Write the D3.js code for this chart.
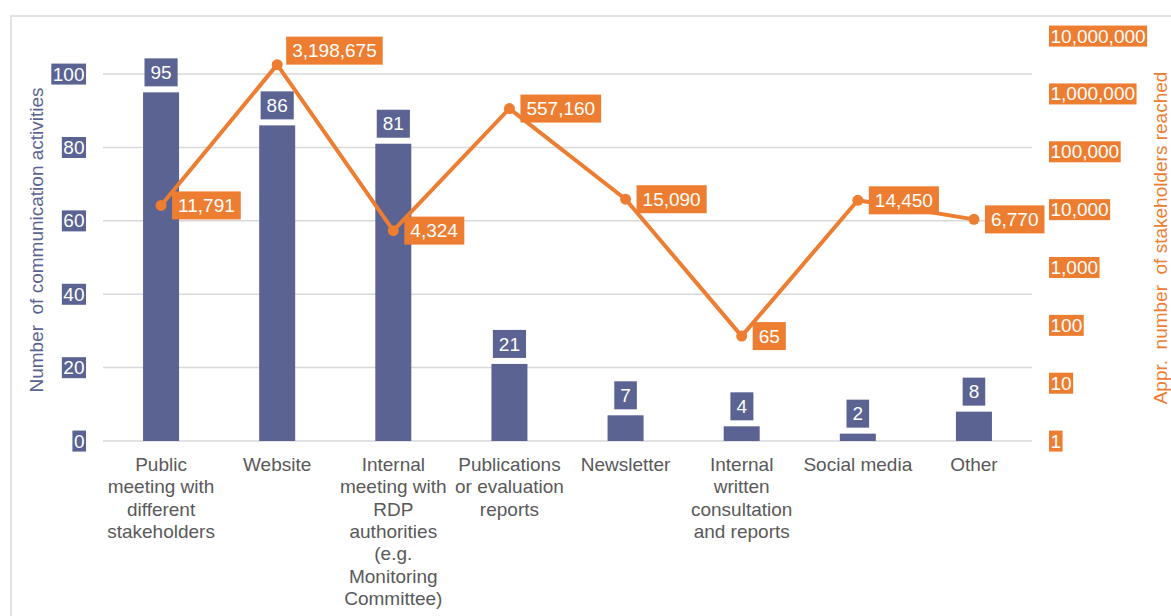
<!DOCTYPE html>
<html>
<head>
<meta charset="utf-8">
<script src="https://cdn.jsdelivr.net/npm/d3@7"></script>
<style>
  html, body { margin: 0; padding: 0; background: #ffffff; }
  svg { display: block; font-family: "Liberation Sans", Arial, sans-serif; }
</style>
</head>
<body>
<svg id="chart" width="1171" height="616"></svg>
<script>
// ---- data ----
const categories = [
  "Public meeting with different stakeholders",
  "Website",
  "Internal meeting with RDP authorities (e.g. Monitoring Committee)",
  "Publications or evaluation reports",
  "Newsletter",
  "Internal written consultation and reports",
  "Social media",
  "Other"
];
const activities = [95, 86, 81, 21, 7, 4, 2, 8];
const stakeholders = [11791, 3198675, 4324, 557160, 15090, 65, 14450, 6770];
const leftTicks = [0, 20, 40, 60, 80, 100];
const rightTicks = [1, 10, 100, 1000, 10000, 100000, 1000000, 10000000];
const leftTitle = "Number  of communication activities";
const rightTitle = "Appr.  number  of stakeholders reached";

// ---- styles ----
const BAR = "#5a6391";
const ORANGE = "#ed7d31";
const GRID = "#d9d9d9";
const TEXT = "#595959";
const FS = 19;

const svg = d3.select("#chart");

// frame
svg.append("rect")
  .attr("x", 11).attr("y", 16)
  .attr("width", 1300).attr("height", 800)
  .attr("fill", "none").attr("stroke", GRID).attr("stroke-width", 1.5);

const plot = { left: 103, right: 1032, top0: 74, topLog: 36, bottom: 441 };

const x = d3.scaleBand().domain(categories).range([plot.left, plot.right]).padding(0);
const yL = d3.scaleLinear().domain([0, 100]).range([plot.bottom, plot.top0]);
const yR = d3.scaleLog().domain([1, 1e7]).range([plot.bottom, plot.topLog]);

// gridlines
svg.append("g").selectAll("line").data(leftTicks).join("line")
  .attr("x1", plot.left).attr("x2", plot.right)
  .attr("y1", d => yL(d)).attr("y2", d => yL(d))
  .attr("stroke", GRID).attr("stroke-width", 1.5);

// bars
const barW = x.bandwidth() * 0.31;
svg.append("g").selectAll("rect").data(activities).join("rect")
  .attr("x", (d, i) => x(categories[i]) + x.bandwidth() / 2 - barW / 2)
  .attr("y", d => yL(d))
  .attr("width", barW)
  .attr("height", d => yL(0) - yL(d))
  .attr("fill", BAR);

// helper: boxed text
function boxed(g, bg, padX, padY) {
  g.each(function () {
    const t = d3.select(this).select("text");
    const bb = t.node().getBBox();
    d3.select(this).insert("rect", "text")
      .attr("x", bb.x - padX).attr("y", bb.y - padY)
      .attr("width", bb.width + 2 * padX).attr("height", bb.height + 2 * padY)
      .attr("fill", bg);
  });
}

// left axis
const gL = svg.append("g").attr("transform", "translate(86,0)")
  .call(d3.axisLeft(yL).tickValues(leftTicks).tickSize(0).tickPadding(1.5));
gL.select(".domain").remove();
gL.selectAll("text").attr("fill", "#ffffff").attr("font-size", FS).attr("font-family", null);
boxed(gL.selectAll(".tick"), BAR, 1.5, 0);

// right axis
const gR = svg.append("g").attr("transform", "translate(1049,0)")
  .call(d3.axisRight(yR).tickValues(rightTicks).tickFormat(d3.format(",")).tickSize(0).tickPadding(1.5));
gR.select(".domain").remove();
gR.selectAll("text").attr("fill", "#ffffff").attr("font-size", FS).attr("font-family", null);
boxed(gR.selectAll(".tick"), ORANGE, 1.5, 0);

// category labels
const catG = svg.append("g");
categories.forEach(c => {
  const cx = x(c) + x.bandwidth() / 2;
  const t = catG.append("text").attr("text-anchor", "middle")
    .attr("font-size", FS).attr("fill", TEXT);
  const words = c.split(" ");
  let lines = [], cur = [];
  const probe = catG.append("text").attr("font-size", FS);
  words.forEach(w => {
    const test = cur.concat([w]).join(" ");
    probe.text(test);
    if (cur.length && probe.node().getComputedTextLength() > x.bandwidth()) {
      lines.push(cur.join(" "));
      cur = [w];
    } else cur.push(w);
  });
  lines.push(cur.join(" "));
  probe.remove();
  lines.forEach((ln, k) => {
    t.append("tspan").attr("x", cx).attr("y", 471 + k * 22.3).text(ln);
  });
});

// bar labels
const bl = svg.append("g").selectAll("g").data(activities).join("g");
bl.append("text")
  .attr("x", (d, i) => x(categories[i]) + x.bandwidth() / 2)
  .attr("y", d => yL(d) - 6 - 14)
  .attr("dy", "0.35em")
  .attr("text-anchor", "middle")
  .attr("font-size", FS).attr("fill", "#ffffff")
  .text(d => d);
bl.each(function () {
  const t = d3.select(this).select("text");
  const bb = t.node().getBBox();
  const cy = +t.attr("y");
  d3.select(this).insert("rect", "text")
    .attr("x", bb.x - 6).attr("y", cy - 14)
    .attr("width", bb.width + 12).attr("height", 28)
    .attr("fill", BAR);
});

// line
const pts = stakeholders.map((v, i) => [x(categories[i]) + x.bandwidth() / 2, yR(v)]);
svg.append("path").datum(pts)
  .attr("d", d3.line())
  .attr("fill", "none").attr("stroke", ORANGE).attr("stroke-width", 4)
  .attr("stroke-linejoin", "round");
svg.append("g").selectAll("circle").data(pts).join("circle")
  .attr("cx", d => d[0]).attr("cy", d => d[1]).attr("r", 5.5).attr("fill", ORANGE);

// line labels (right of point; the peak label sits above-right)
const maxV = d3.max(stakeholders);
const ll = svg.append("g").selectAll("g").data(stakeholders).join("g");
ll.each(function (v, i) {
  const g = d3.select(this);
  const [px, py] = pts[i];
  const isMax = v === maxV;
  const cy = isMax ? py - 14 : py;
  const left = px + (isMax ? 9 : 11);
  const t = g.append("text")
    .attr("x", left + 6).attr("y", cy).attr("dy", "0.35em")
    .attr("font-size", FS).attr("fill", "#ffffff")
    .text(d3.format(",")(v));
  const bb = t.node().getBBox();
  g.insert("rect", "text")
    .attr("x", left).attr("y", cy - 14)
    .attr("width", bb.width + 12).attr("height", 28)
    .attr("fill", ORANGE);
});

// axis titles
svg.append("text")
  .attr("transform", "translate(43,240) rotate(-90)")
  .attr("text-anchor", "middle").attr("font-size", FS).attr("fill", BAR)
  .style("white-space", "pre")
  .text(leftTitle);
svg.append("text")
  .attr("transform", "translate(1167,238) rotate(-90)")
  .attr("text-anchor", "middle").attr("font-size", FS).attr("fill", ORANGE)
  .style("white-space", "pre")
  .text(rightTitle);
</script>
</body>
</html>
